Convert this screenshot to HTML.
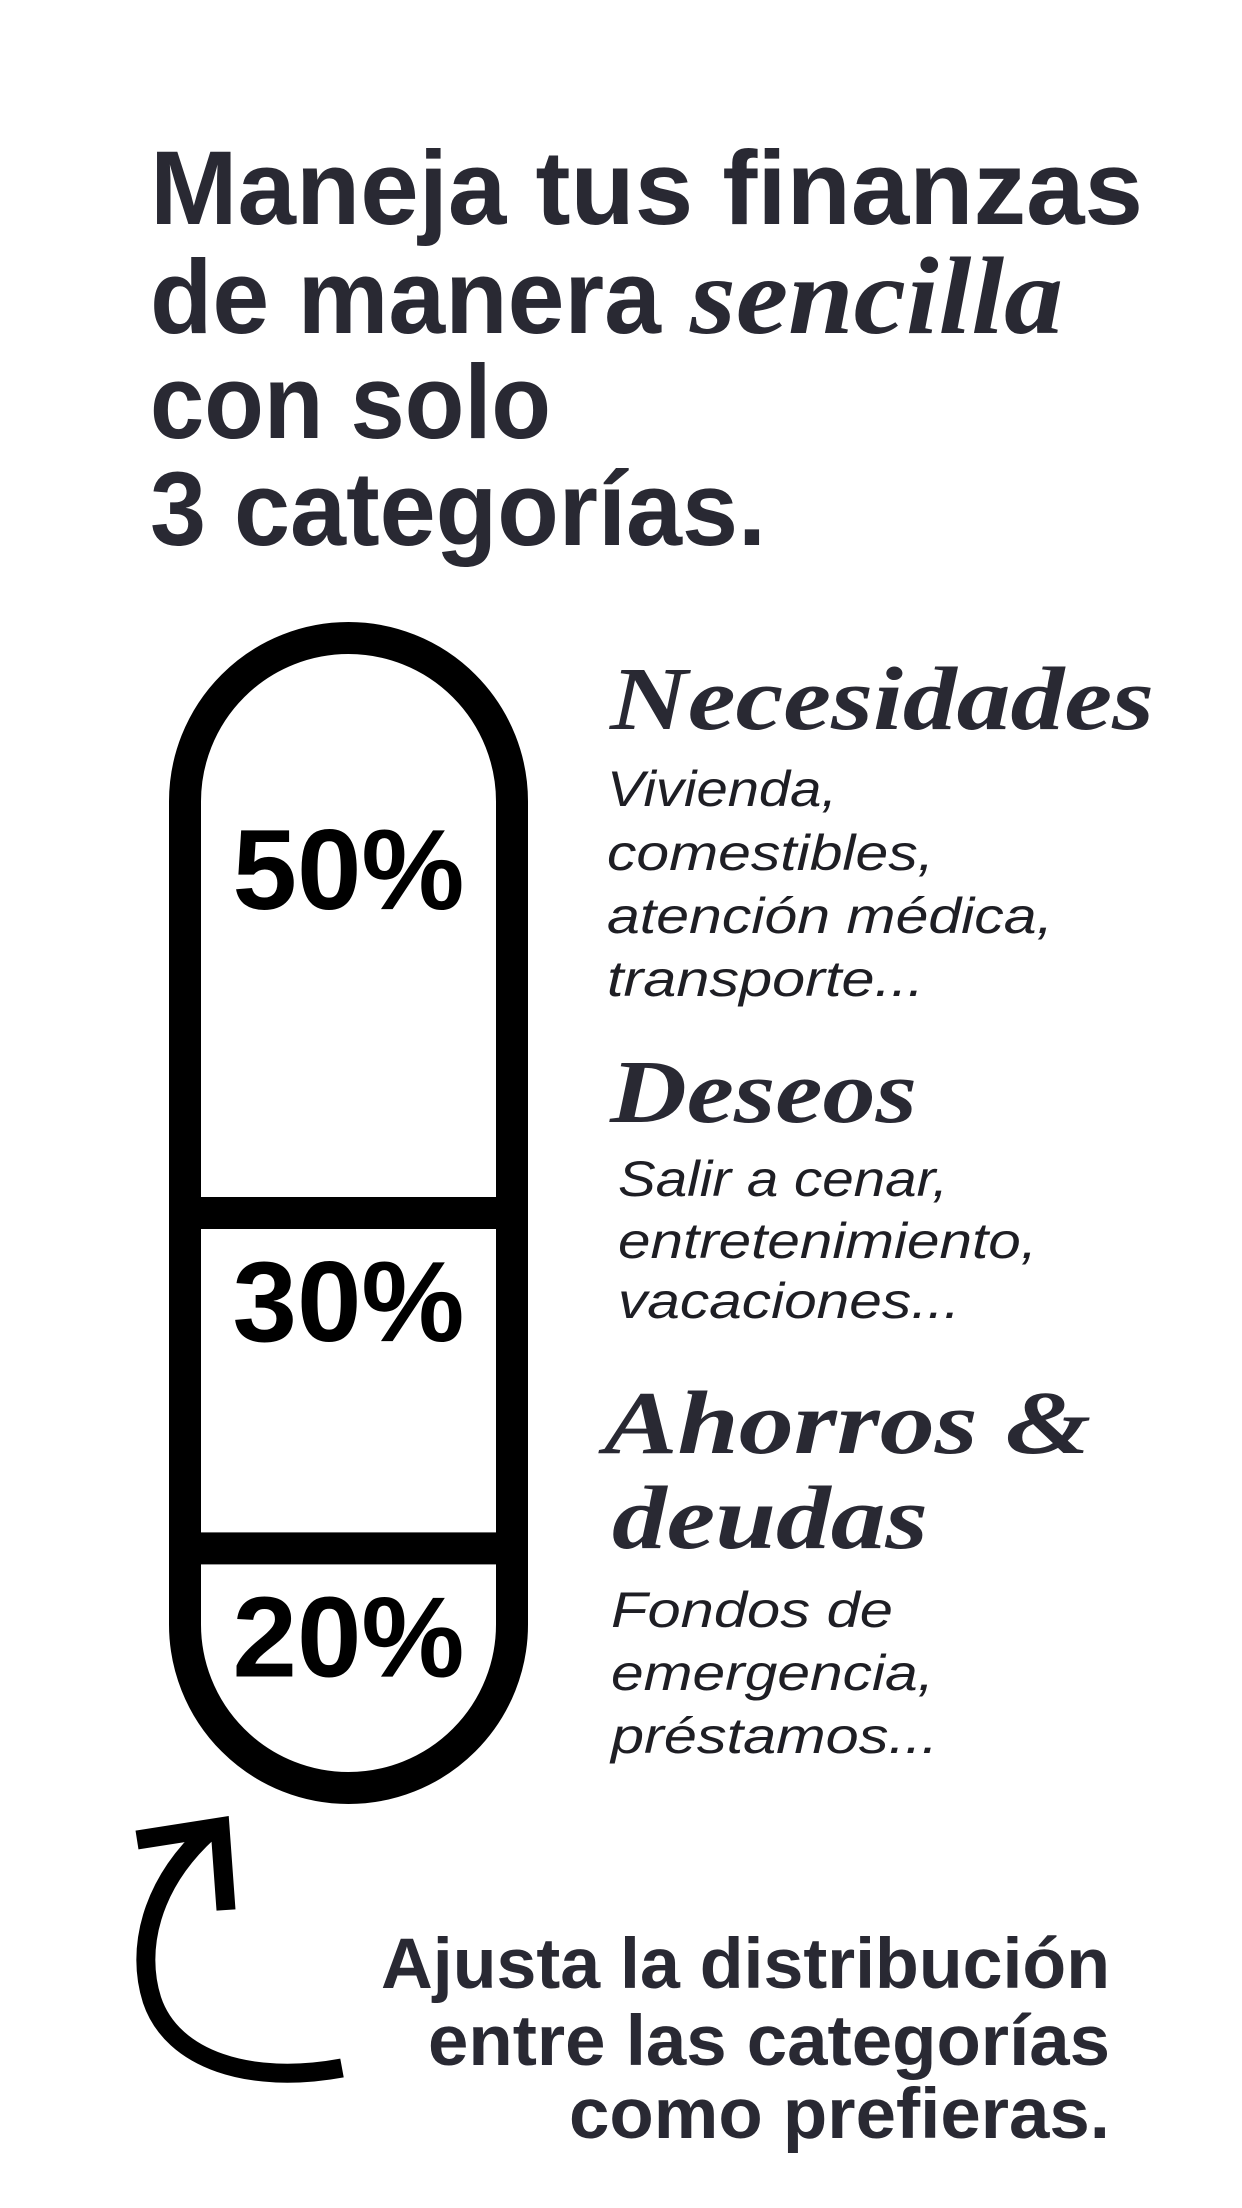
<!DOCTYPE html>
<html><head><meta charset="utf-8"><style>
html,body{margin:0;padding:0;background:#fff;}
svg{display:block;}
</style></head><body>
<svg id="chart" width="1242" height="2208" viewBox="0 0 1242 2208" xmlns="http://www.w3.org/2000/svg">
<rect width="1242" height="2208" fill="#fff"/>
<g fill="#292933" font-family="'Liberation Sans', sans-serif" font-weight="bold" font-size="105">
  <text x="150" y="224" textLength="993" lengthAdjust="spacingAndGlyphs">Maneja tus finanzas</text>
  <text x="150" y="333" textLength="511" lengthAdjust="spacingAndGlyphs">de manera</text>
  <text x="690" y="333" textLength="373" lengthAdjust="spacingAndGlyphs" font-family="'Liberation Serif', serif" font-style="italic" font-size="110">sencilla</text>
  <text x="150" y="438" textLength="401" lengthAdjust="spacingAndGlyphs">con solo</text>
  <text x="150" y="545" textLength="616" lengthAdjust="spacingAndGlyphs">3 categorías.</text>
</g>
<g id="pill"></g>
<g fill="#292933">
  <text x="610" y="729" textLength="544" lengthAdjust="spacingAndGlyphs" font-family="'Liberation Serif', serif" font-weight="bold" font-style="italic" font-size="90">Necesidades</text>
  <g font-family="'Liberation Sans', sans-serif" font-style="italic" font-size="50" fill="#1e1e24">
    <text x="607" y="806" textLength="230" lengthAdjust="spacingAndGlyphs">Vivienda,</text>
    <text x="607" y="870" textLength="327" lengthAdjust="spacingAndGlyphs">comestibles,</text>
    <text x="607" y="933" textLength="446" lengthAdjust="spacingAndGlyphs">atención médica,</text>
    <text x="607" y="996" textLength="317" lengthAdjust="spacingAndGlyphs">transporte...</text>
  </g>
  <text x="610" y="1122" textLength="307" lengthAdjust="spacingAndGlyphs" font-family="'Liberation Serif', serif" font-weight="bold" font-style="italic" font-size="90">Deseos</text>
  <g font-family="'Liberation Sans', sans-serif" font-style="italic" font-size="50" fill="#1e1e24">
    <text x="618" y="1196" textLength="330" lengthAdjust="spacingAndGlyphs">Salir a cenar,</text>
    <text x="618" y="1258" textLength="419" lengthAdjust="spacingAndGlyphs">entretenimiento,</text>
    <text x="618" y="1318" textLength="342" lengthAdjust="spacingAndGlyphs">vacaciones...</text>
  </g>
  <text x="604" y="1453" textLength="487" lengthAdjust="spacingAndGlyphs" font-family="'Liberation Serif', serif" font-weight="bold" font-style="italic" font-size="90">Ahorros &amp;</text>
  <text x="612" y="1548" textLength="316" lengthAdjust="spacingAndGlyphs" font-family="'Liberation Serif', serif" font-weight="bold" font-style="italic" font-size="90">deudas</text>
  <g font-family="'Liberation Sans', sans-serif" font-style="italic" font-size="50" fill="#1e1e24">
    <text x="611" y="1627" textLength="282" lengthAdjust="spacingAndGlyphs">Fondos de</text>
    <text x="611" y="1690" textLength="323" lengthAdjust="spacingAndGlyphs">emergencia,</text>
    <text x="611" y="1753" textLength="327" lengthAdjust="spacingAndGlyphs">préstamos...</text>
  </g>
</g>
<g fill="none" stroke="#000" stroke-width="19">
  <path d="M342,2068 C250,2085 172,2060 152,2000 C136,1950 150,1885 208,1832"/>
  <polyline points="137,1840 220,1827 226,1910" stroke-linejoin="miter"/>
</g>
<g fill="#292933" font-family="'Liberation Sans', sans-serif" font-weight="bold" font-size="71" text-anchor="end">
  <text x="1110" y="1988" textLength="729" lengthAdjust="spacingAndGlyphs">Ajusta la distribución</text>
  <text x="1110" y="2065" textLength="682" lengthAdjust="spacingAndGlyphs">entre las categorías</text>
  <text x="1110" y="2138" textLength="541" lengthAdjust="spacingAndGlyphs">como prefieras.</text>
</g>
</svg>
<script>
const categories = ["Necesidades", "Deseos", "Ahorros y deudas"];
const shares = [50, 30, 20];
const shareLabels = ["50%", "30%", "20%"];

const NS = "http://www.w3.org/2000/svg";
const pillGroup = document.getElementById("pill");
const pillLeft = 169, pillRight = 528, pillTop = 622, pillBottom = 1804, sw = 32;
const innerTop = pillTop + sw, innerBottom = pillBottom - sw;
const totalShare = shares.reduce((a, b) => a + b, 0);
function yScale(v) { return innerTop + (v / totalShare) * (innerBottom - innerTop); }
const pillCx = (pillLeft + pillRight) / 2, pillR = (pillRight - pillLeft) / 2;

const outline = document.createElementNS(NS, "rect");
outline.setAttribute("x", pillLeft + sw / 2);
outline.setAttribute("y", pillTop + sw / 2);
outline.setAttribute("width", pillRight - pillLeft - sw);
outline.setAttribute("height", pillBottom - pillTop - sw);
outline.setAttribute("rx", pillR - sw / 2);
outline.setAttribute("fill", "#fff");
outline.setAttribute("stroke", "#000");
outline.setAttribute("stroke-width", sw);


pillGroup.appendChild(outline);

let cum = 0;
shares.forEach((v, i) => {
  const segTop = yScale(cum);
  cum += v;
  if (i < shares.length - 1) {
    const y = yScale(cum);
    const d = document.createElementNS(NS, "rect");
    d.setAttribute("x", pillLeft);
    d.setAttribute("y", y - sw / 2);
    d.setAttribute("width", pillRight - pillLeft);
    d.setAttribute("height", sw);
    d.setAttribute("fill", "#000");
    
    
    pillGroup.appendChild(d);
  }
  const labelY = i === 0 ? innerTop + 255 : segTop + sw / 2 + 112;
  const t = document.createElementNS(NS, "text");
  t.setAttribute("x", pillCx);
  t.setAttribute("y", labelY);
  t.setAttribute("text-anchor", "middle");
  t.setAttribute("font-family", "'Liberation Sans', sans-serif");
  t.setAttribute("font-weight", "bold");
  t.setAttribute("font-size", "114");
  t.setAttribute("textLength", "232");
  t.setAttribute("lengthAdjust", "spacingAndGlyphs");
  t.setAttribute("fill", "#000");
  t.textContent = shareLabels[i];
  
  
  pillGroup.appendChild(t);
});
</script>
</body></html>
